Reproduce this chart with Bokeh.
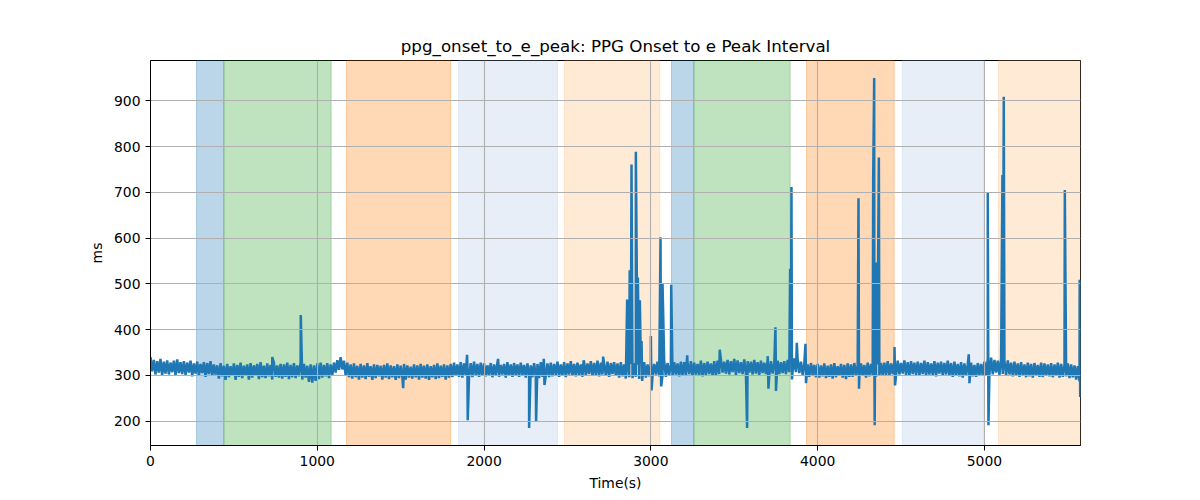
import numpy as np
from bokeh.plotting import figure
from bokeh.models import Range1d, FixedTicker, BoxAnnotation, ColumnDataSource
from bokeh.embed import file_html
from bokeh.resources import INLINE

# ---- data ----
sample_step_s = 10
base_ms = [
    340,309,334,302,331,306,336,300,330,304,333,302,328,307,332,300,335,305,329,303,
    331,301,328,306,332,298,326,304,330,300,325,305,329,297,327,303,331,299,324,302,
    322,293,327,298,321,290,325,296,320,299,326,292,323,297,328,294,321,300,324,291,
    327,295,322,299,325,292,329,296,321,294,326,298,323,291,328,297,322,295,325,293,
    324,297,328,292,323,296,327,294,322,298,329,291,325,295,321,286,324,284,322,288,
    326,292,328,295,323,298,327,294,324,301,328,306,333,312,340,313,332,300,328,296,
    324,293,326,296,321,291,325,295,322,292,327,297,320,290,324,294,323,298,321,291,
    323,295,326,292,322,296,320,290,324,294,321,297,325,291,322,295,319,293,324,296,
    322,291,325,295,321,293,324,290,320,296,323,292,326,294,321,297,324,291,322,295,
    325,296,328,299,324,297,329,295,326,301,323,298,327,296,330,300,325,297,328,299,
    326,298,322,301,327,296,324,300,328,297,323,302,325,295,329,299,324,297,327,300,
    324,297,328,300,323,295,326,299,322,296,327,298,325,294,329,297,323,299,326,296,
    328,298,325,301,330,297,324,300,329,296,326,302,331,299,325,298,328,301,324,297,
    329,300,326,303,331,299,327,301,332,298,328,302,325,300,330,297,327,303,329,299,
    326,295,329,298,324,293,328,296,325,294,327,297,323,292,326,296,329,295,324,298,
    328,299,325,302,330,298,326,300,331,297,327,301,324,299,329,302,326,298,330,300,
    329,301,326,303,331,299,328,302,325,300,332,298,327,301,330,303,326,300,331,299,
    332,303,335,306,330,304,334,302,331,307,336,301,333,305,329,303,335,304,331,306,
    330,302,334,304,329,301,332,305,328,303,333,300,331,304,327,301,332,303,329,305,
    331,303,334,307,332,309,337,307,335,305,330,301,326,299,324,297,327,300,323,296,
    325,295,322,298,326,294,321,297,324,293,327,296,320,299,325,295,323,292,326,297,
    324,297,327,300,322,296,326,299,323,295,328,298,325,301,329,297,324,300,327,299,
    328,301,331,299,326,303,330,300,332,302,327,304,333,301,329,299,331,303,328,301,
    330,300,327,303,332,299,329,302,326,301,331,298,328,304,330,300,327,302,332,299,
    327,297,330,300,325,298,329,295,326,299,324,296,328,298,323,297,327,300,325,299,
    330,299,337,304,339,302,334,306,332,301,336,303,331,300,333,302,328,298,330,300,
    326,297,329,299,324,296,328,298,325,295,327,300,323,297,328,296,326,299,324,298,
    327,296,324,299,328,295,325,297,323,298,326,294,324,296,322,291,320,287,
]

spike_t = [510, 730, 901, 1515, 1898, 1902, 2084, 2270, 2312, 2358, 2362, 2597, 2714,
           2858, 2873, 2884, 2910, 2922, 2934, 2944, 2948, 3000, 3004, 3058, 3062, 3070,
           3122, 3218, 3413, 3577, 3701, 3705, 3747, 3750, 3835, 3843, 3846, 3875, 3927,
           3930, 4245, 4248, 4333, 4339, 4342, 4346, 4350, 4360, 4367, 4461, 4464, 4906,
           4910, 5020, 5024, 5108, 5116, 5482, 5571, 5574]
spike_ms = [290, 340, 432, 272, 345, 202, 336, 185, 198, 336, 279, 333, 341,
            466, 530, 761, 789, 514, 464, 375, 288, 386, 267, 602, 276, 500,
            498, 344, 356, 185, 342, 271, 405, 266, 533, 712, 291, 371, 369,
            283, 687, 271, 730, 950, 191, 480, 547, 430, 776, 362, 278, 346,
            283, 700, 191, 738, 909, 705, 509, 253]

span_start = [276, 440, 1175, 1847, 2482, 3124, 3258, 3933, 4508, 5084]
span_end = [440, 1083, 1799, 2440, 3054, 3258, 3835, 4459, 4996, 5576]
span_color = ["#1f77b4", "#2ca02c", "#ff7f0e", "#aec7e8", "#ffbb78",
              "#1f77b4", "#2ca02c", "#ff7f0e", "#aec7e8", "#ffbb78"]

x_ticks = [0, 1000, 2000, 3000, 4000, 5000]
y_ticks = [200, 300, 400, 500, 600, 700, 800, 900]
x_end = 5576

# ---- build series ----
base_t = np.arange(len(base_ms)) * sample_step_s
t_all = np.concatenate([base_t, np.array(spike_t)])
v_all = np.concatenate([np.array(base_ms), np.array(spike_ms)])
order = np.argsort(t_all, kind="stable")
src = ColumnDataSource(dict(t=t_all[order], v=v_all[order]))

vmin, vmax = v_all.min(), v_all.max()
pad = 0.05 * (vmax - vmin)

FONT = "DejaVu Sans"
p = figure(frame_width=930, frame_height=385,
           min_border_left=150, min_border_right=112,
           min_border_top=60, min_border_bottom=47,
           x_range=Range1d(0, x_end), y_range=Range1d(vmin - pad, vmax + pad),
           title="ppg_onset_to_e_peak: PPG Onset to e Peak Interval",
           output_backend="svg", toolbar_location=None)

p.title.align = "center"
p.title.text_font = FONT
p.title.text_font_size = "16.7px"
p.title.text_font_style = "normal"
p.title.text_color = "black"

for s, e, c in zip(span_start, span_end, span_color):
    p.add_layout(BoxAnnotation(left=s, right=e, fill_color=c, fill_alpha=0.3,
                               line_color=c, line_alpha=0.3, line_width=1,
                               level="underlay"))

p.line("t", "v", source=src, line_color="#1f77b4", line_width=2.5)

for g in (p.xgrid, p.ygrid):
    g.level = "glyph"
    g.grid_line_color = "#b0b0b0"
    g.grid_line_width = 1.1

p.xaxis.ticker = FixedTicker(ticks=x_ticks)
p.yaxis.ticker = FixedTicker(ticks=y_ticks)
p.xaxis.axis_label = "Time(s)"
p.yaxis.axis_label = "ms"
for ax in (p.xaxis, p.yaxis):
    ax.axis_label_text_font = FONT
    ax.axis_label_text_font_size = "13.9px"
    ax.axis_label_text_font_style = "normal"
    ax.axis_label_text_color = "black"
    ax.major_label_text_font = FONT
    ax.major_label_text_font_size = "13.9px"
    ax.major_label_text_color = "black"
    ax.minor_tick_line_color = None
    ax.major_tick_in = 0
    ax.major_tick_out = 5
    ax.major_tick_line_color = "black"
    ax.axis_line_color = "black"
    ax.major_label_standoff = 5
    ax.axis_label_standoff = 6
p.yaxis.major_label_orientation = "horizontal"

p.outline_line_color = "black"
p.outline_line_width = 1
p.outline_line_alpha = 1

open("out.html", "w").write(file_html(p, INLINE))
